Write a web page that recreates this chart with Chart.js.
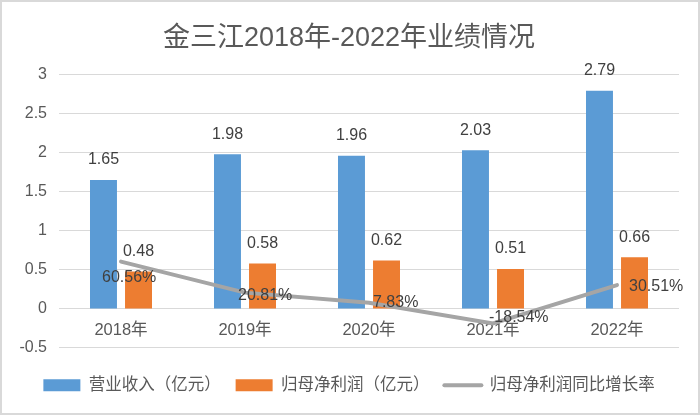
<!DOCTYPE html>
<html>
<head>
<meta charset="utf-8">
<script src="https://cdn.jsdelivr.net/npm/chart.js@4"></script>
<style>
  html, body { margin: 0; padding: 0; background: #fff; }
  #wrap { width: 696px; height: 411px; border: 2px solid #d9d9d9; position: relative; }
</style>
</head>
<body>
<div id="wrap"><canvas id="chart"></canvas></div>
<script>
const years = ["2018年", "2019年", "2020年", "2021年", "2022年"];
const revenue = [1.65, 1.98, 1.96, 2.03, 2.79];
const netProfit = [0.48, 0.58, 0.62, 0.51, 0.66];
const growthPct = [60.56, 20.81, 7.83, -18.54, 30.51];

// the % labels were nudged by hand in the original, keep those nudges
const growthLabelShift = [[-19, 16], [-7, 3], [4, 0], [-4, -6], [12, 2]];

const FONT = "'Liberation Sans', 'Noto Sans CJK SC', sans-serif";
Chart.defaults.font.family = FONT;
Chart.defaults.font.size = 16;
Chart.defaults.color = "#595959";

const valueLabels = {
  id: "valueLabels",
  afterDatasetsDraw(chart) {
    const ctx = chart.ctx;
    ctx.save();
    ctx.font = "16px " + FONT;
    ctx.fillStyle = "#404040";
    ctx.textBaseline = "middle";
    ctx.textAlign = "center";
    [0, 1].forEach((di) => {
      chart.getDatasetMeta(di).data.forEach((bar, i) => {
        const v = chart.data.datasets[di].data[i];
        ctx.fillText(v.toFixed(2), bar.x, bar.y - 20);
      });
    });
    ctx.textAlign = "left";
    chart.getDatasetMeta(2).data.forEach((pt, i) => {
      const s = growthLabelShift[i];
      ctx.fillText(growthPct[i].toFixed(2) + "%", pt.x + s[0], pt.y + s[1]);
    });
    ctx.restore();
  },
};

const ctx = document.getElementById("chart").getContext("2d");
new Chart(ctx, {
  data: {
    labels: years,
    datasets: [
      {
        type: "bar",
        label: "营业收入（亿元）",
        data: revenue,
        backgroundColor: "#5B9BD5",
        categoryPercentage: 0.565,
        barPercentage: 0.77,
        order: 1,
      },
      {
        type: "bar",
        label: "归母净利润（亿元）",
        data: netProfit,
        backgroundColor: "#ED7D31",
        categoryPercentage: 0.565,
        barPercentage: 0.77,
        order: 1,
      },
      {
        type: "line",
        label: "归母净利润同比增长率",
        data: growthPct.map((p) => p / 100),
        borderColor: "#A5A5A5",
        backgroundColor: "#A5A5A5",
        borderWidth: 4,
        borderCapStyle: "round",
        pointRadius: 0,
        tension: 0,
        order: 0,
      },
    ],
  },
  options: {
    responsive: true,
    maintainAspectRatio: false,
    animation: false,
    layout: {
      padding: { left: 17, right: 19, top: 0, bottom: 9.5 },
    },
    scales: {
      x: {
        position: { y: 0 },
        grid: { display: false, drawTicks: false },
        border: { display: false },
        ticks: { padding: 12, color: "#595959", font: { size: 16.5 } },
      },
      y: {
        min: -0.5,
        max: 3,
        afterFit(scale) {
          scale.width = 40;
        },
        grid: { color: "#D9D9D9", lineWidth: 1, drawTicks: false },
        border: { display: false },
        ticks: {
          stepSize: 0.5,
          padding: 12,
          color: "#595959",
          callback: (v) => String(v),
        },
      },
    },
    plugins: {
      title: {
        display: true,
        text: "金三江2018年-2022年业绩情况",
        color: "#595959",
        font: { size: 27, weight: "normal" },
        padding: { top: 20, bottom: 20 },
      },
      legend: {
        position: "bottom",
        title: { display: true, text: "", font: { size: 11.67 }, padding: 0 },
        labels: {
          usePointStyle: true,
          pointStyleWidth: 37,
          boxHeight: 12,
          padding: 15,
          color: "#595959",
          font: { size: 16.5 },
          sort: (a, b) => a.datasetIndex - b.datasetIndex,
          generateLabels(chart) {
            const items = Chart.defaults.plugins.legend.labels.generateLabels(chart);
            items.forEach((it) => {
              const ds = chart.data.datasets[it.datasetIndex];
              if (ds.type === "line") {
                it.pointStyle = "line";
                it.strokeStyle = ds.borderColor;
                it.lineWidth = 4;
                it.lineCap = "round";
              } else {
                it.pointStyle = "rect";
                it.fillStyle = ds.backgroundColor;
                it.lineWidth = 0;
              }
            });
            return items;
          },
        },
      },
      tooltip: { enabled: false },
    },
  },
  plugins: [valueLabels],
});
</script>
</body>
</html>
